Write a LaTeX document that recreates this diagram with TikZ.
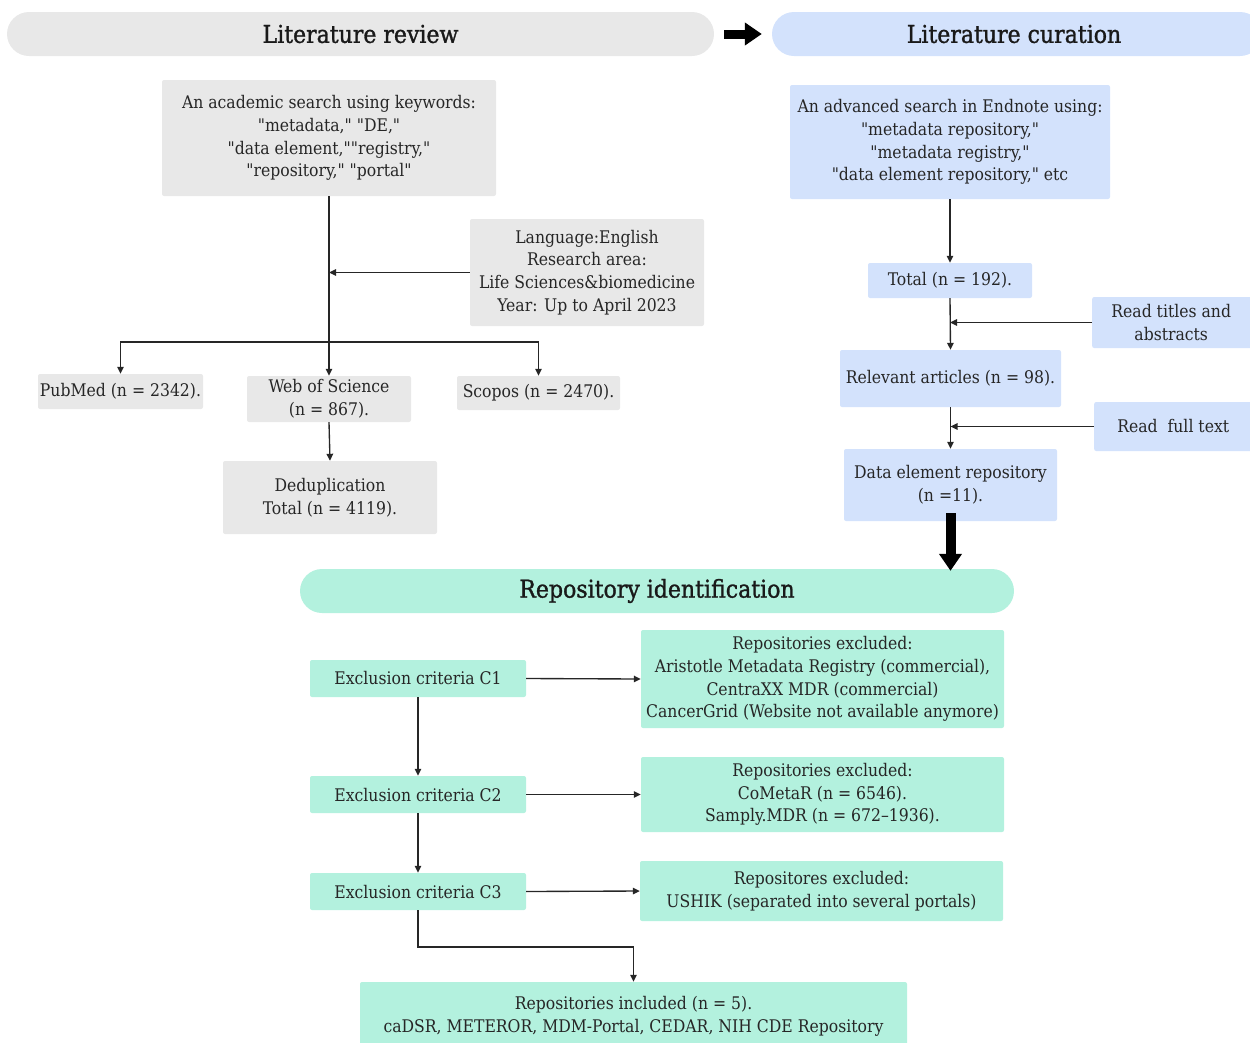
\documentclass[tikz,border=0pt]{standalone}
\usepackage{fontspec}
\setmainfont{DejaVu Serif Condensed}[Ligatures=TeXOff]
\newfontfamily\titlefont{DejaVu Serif Condensed}[FakeBold=1.2]
\usetikzlibrary{arrows.meta}
\definecolor{gboxc}{HTML}{E8E8E8}
\definecolor{bboxc}{HTML}{D3E2FC}
\definecolor{mboxc}{HTML}{B3F1DE}
\tikzset{
  box/.style={rectangle, rounded corners=2pt, inner sep=0pt, align=center,
    font=\fontsize{17.4}{22.7}\selectfont, text=black!85},
  gb/.style={box, fill=gboxc},
  bb/.style={box, fill=bboxc},
  mb/.style={box, fill=mboxc},
  pill/.style={rectangle, rounded corners=22pt, inner sep=0pt, minimum height=44pt,
    font=\titlefont\fontsize{24.5}{28}\selectfont, text=black!90},
  conn/.style={line width=1.35pt, draw=black!85, -{Triangle[length=7pt,width=6.5pt]}},
  bigarrow/.style={draw=black, -{Triangle[length=17pt,width=22pt]}}
}
\begin{document}
\begin{tikzpicture}[x=1pt,y=-1pt]
\useasboundingbox (0,0) rectangle (1250,1042);
% headers
\node[pill, fill=gboxc, minimum width=707pt] (rev) at (360.5,34) {Literature review};
\node[pill, fill=bboxc, minimum width=490pt] (cur) at (1017,34) {\hspace*{-6pt}Literature curation};
\node[pill, fill=mboxc, minimum width=714pt] (rid) at (657,591) {Repository identification};
\draw[bigarrow, line width=9pt] ([xshift=10pt]rev.east) -- ([xshift=-10pt]cur.west);
% left column
\node[gb, minimum width=334pt, minimum height=116pt] (a1) at (329,138)
  {An academic search using keywords:\\ "metadata," "DE,"\\ "data element,""registry,"\\ "repository," "portal"};
\node[gb, minimum width=234pt, minimum height=107pt] (filt) at (587,272.5)
  {Language:English\\ Research area:\\ Life Sciences\&biomedicine\\ Year: Up to April 2023};
\node[gb, minimum width=165pt, minimum height=35pt] (pub) at (120.5,391.5) {PubMed (n = 2342).};
\node[gb, minimum width=164pt, minimum height=46pt] (wos) at (329,399) {Web of Science\\ (n = 867).};
\node[gb, minimum width=163pt, minimum height=34pt] (sco) at (538.5,393) {Scopos (n = 2470).};
\node[gb, minimum width=214pt, minimum height=73pt] (dd) at (330,497.5) {Deduplication\\ Total (n = 4119).};
\coordinate (br) at (329,342);
\draw[conn] (a1.south) -- (wos.north);
\draw[conn] (filt.west) -- (a1.south |- filt.west);
\draw[conn] (br) -| (pub.north);
\draw[conn] (br) -| (sco.north);
\draw[conn] (wos.south) -- (dd.north);
% right column
\node[bb, minimum width=320pt, minimum height=114pt] (b1) at (950,142)
  {An advanced search in Endnote using:\\ "metadata repository,"\\ "metadata registry,"\\ "data element repository," etc};
\node[bb, minimum width=164pt, minimum height=35pt] (tot) at (950,280.5) {Total (n = 192).};
\node[bb, minimum width=170pt, minimum height=51pt, anchor=west] (rta) at (1092,322.5) {\hspace*{-12pt}Read titles and\\ \hspace*{-12pt}abstracts};
\node[bb, minimum width=221pt, minimum height=57pt] (rel) at (950.5,378.5) {Relevant articles (n = 98).};
\node[bb, minimum width=170pt, minimum height=49pt, anchor=west] (rft) at (1094,426.5) {\hspace*{-12pt}Read\ \ full text};
\node[bb, minimum width=213pt, minimum height=72pt] (de) at (950.5,485) {Data element repository\\ (n =11).};
\draw[conn] (b1.south) -- (tot.north);
\draw[conn] (tot.south) -- (rel.north);
\draw[conn] (rta.west) -- (tot.south |- rta.west);
\draw[conn] (rel.south) -- (de.north);
\draw[conn] (rft.west) -- (rel.south |- rft.west);
\draw[bigarrow, line width=10pt] ([yshift=8pt]de.south) -- ([yshift=-2pt]rid.north -| de.south);
% bottom section
\node[mb, minimum width=216pt, minimum height=37pt] (c1) at (418,678.5) {Exclusion criteria C1};
\node[mb, minimum width=363pt, minimum height=98pt] (e1) at (822.5,679)
  {Repositories excluded:\\ Aristotle Metadata Registry (commercial),\\ CentraXX MDR (commercial)\\ CancerGrid (Website not available anymore)};
\node[mb, minimum width=216pt, minimum height=37pt] (c2) at (418,794.5) {Exclusion criteria C2};
\node[mb, minimum width=363pt, minimum height=75pt] (e2) at (822.5,794.5)
  {Repositories excluded:\\ CoMetaR (n = 6546).\\ Samply.MDR (n = 672–1936).};
\node[mb, minimum width=216pt, minimum height=37pt] (c3) at (418,891.5) {Exclusion criteria C3};
\node[mb, minimum width=363pt, minimum height=60pt] (e3) at (821.5,891)
  {Repositores excluded:\\ USHIK (separated into several portals)};
\node[mb, minimum width=547pt, minimum height=68pt] (inc) at (633.5,1016)
  {Repositories included (n = 5).\\ caDSR, METEROR, MDM-Portal, CEDAR, NIH CDE Repository};
\coordinate (jn) at (418,947);
\draw[conn] (c1.east) -- (e1.west);
\draw[conn] (c2.east) -- (e2.west);
\draw[conn] (c3.east) -- (e3.west);
\draw[conn] (c1.south) -- (c2.north);
\draw[conn] (c2.south) -- (c3.north);
\draw[conn] (c3.south) -- (jn) -| (inc.north);
\end{tikzpicture}
\end{document}
